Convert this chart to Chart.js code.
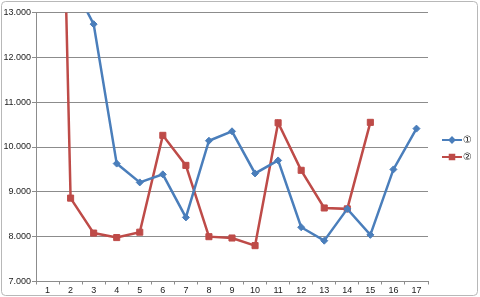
<!DOCTYPE html>
<html>
<head>
<meta charset="utf-8">
<script src="https://cdn.jsdelivr.net/npm/chart.js@4.4.1/dist/chart.umd.min.js"></script>
<style>
  html, body { margin: 0; padding: 0; background: #fff; }
  #wrap { width: 480px; height: 297px; position: relative; }
</style>
</head>
<body>
<div id="wrap"><canvas id="chart" width="480" height="297"></canvas></div>
<script>
// 数据
const categories = ['1', '2', '3', '4', '5', '6', '7', '8', '9', '10', '11', '12', '13', '14', '15', '16', '17'];
const series1 = [15.0, 13.73, 12.74, 9.63, 9.21, 9.39, 8.43, 10.14, 10.35, 9.41, 9.70, 8.21, 7.91, 8.62, 8.04, 9.50, 10.41];
const series2 = [31.0, 8.86, 8.08, 7.98, 8.10, 10.26, 9.59, 8.00, 7.97, 7.80, 10.54, 9.48, 8.64, 8.62, 10.55, null, null];
const seriesNames = ['①', '②'];
const yMin = 7, yMax = 13, yStep = 1;

const BLUE = '#4a7ebb';
const RED = '#be4b48';
const GRID = '#8c8c8c';
const FONT = '"Liberation Sans", "DejaVu Sans", sans-serif';

// 外框
const framePlugin = {
    id: 'frame',
    beforeDraw(chart) {
        const ctx = chart.ctx;
        ctx.save();
        ctx.fillStyle = '#fff';
        ctx.fillRect(0, 0, chart.width, chart.height);
        ctx.strokeStyle = '#b8b8b8';
        ctx.lineWidth = 1;
        ctx.beginPath();
        ctx.roundRect(1.5, 1.5, 476, 294, 4);
        ctx.stroke();
        ctx.restore();
    }
};

// 图例（线 + 小标记）
const legendPlugin = {
    id: 'lineLegend',
    afterDraw(chart) {
        const ctx = chart.ctx;
        ctx.save();
        chart.data.datasets.forEach((ds, i) => {
            const y = 140 + i * 17;
            ctx.strokeStyle = ds.borderColor;
            ctx.fillStyle = ds.backgroundColor;
            ctx.lineWidth = 2;
            ctx.beginPath();
            ctx.moveTo(442, y);
            ctx.lineTo(462, y);
            ctx.stroke();
            Chart.helpers.drawPoint(ctx, {
                pointStyle: ds.pointStyle,
                radius: i === 0 ? 2.5 : 3.2,
                borderWidth: 1
            }, 452, y);
            ctx.fillStyle = '#222';
            ctx.font = '10px ' + FONT;
            ctx.textBaseline = 'middle';
            ctx.textAlign = 'left';
            ctx.fillText(ds.label, 463, y + 0.5);
        });
        ctx.restore();
    }
};

new Chart(document.getElementById('chart'), {
    type: 'line',
    data: {
        labels: categories,
        datasets: [{
            label: seriesNames[0],
            data: series1,
            borderColor: BLUE,
            backgroundColor: BLUE,
            borderWidth: 2.5,
            pointStyle: 'rectRot',
            pointRadius: 3.5,
            pointBorderWidth: 1,
            tension: 0
        }, {
            label: seriesNames[1],
            data: series2,
            borderColor: RED,
            backgroundColor: RED,
            borderWidth: 2.5,
            pointStyle: 'rect',
            pointRadius: 4.3,
            pointBorderWidth: 1,
            tension: 0
        }]
    },
    options: {
        responsive: false,
        animation: false,
        devicePixelRatio: 1,
        layout: { padding: { left: 0, top: 12.5, right: 52, bottom: 0 } },
        plugins: {
            legend: { display: false },
            tooltip: { enabled: false }
        },
        scales: {
            x: {
                type: 'category',
                offset: true,
                grid: {
                    offset: true,
                    drawOnChartArea: false,
                    drawTicks: true,
                    tickLength: 3,
                    color: GRID
                },
                border: { color: GRID, width: 1 },
                ticks: {
                    color: '#222',
                    font: { family: FONT, size: 9 },
                    padding: 1,
                    maxRotation: 0,
                    autoSkip: false
                },
                afterFit(scale) { scale.height = 15.5; }
            },
            y: {
                min: yMin,
                max: yMax,
                grid: {
                    color: GRID,
                    drawTicks: true,
                    tickLength: 4
                },
                border: { color: GRID, width: 1 },
                ticks: {
                    stepSize: yStep,
                    color: '#222',
                    font: { family: FONT, size: 9 },
                    padding: 1,
                    callback: v => v.toFixed(3)
                },
                afterFit(scale) { scale.width = 36; }
            }
        }
    },
    plugins: [framePlugin, legendPlugin]
});
</script>
</body>
</html>
